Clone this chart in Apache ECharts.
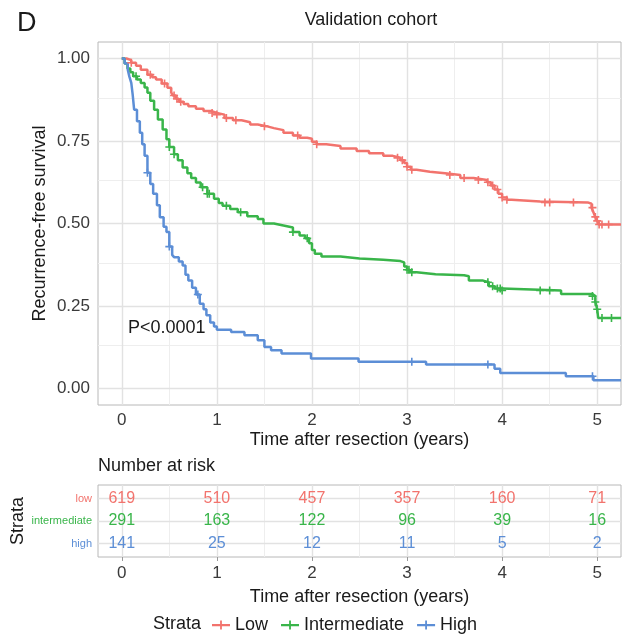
<!DOCTYPE html>
<html lang="en">
<head>
<meta charset="UTF-8">
<title>Validation cohort</title>
<script src="https://cdn.jsdelivr.net/npm/echarts@6/dist/echarts.min.js"></script>
<style>
  html, body { margin: 0; padding: 0; background: #fff; }
  #chart { width: 628px; height: 635px; }
</style>
</head>
<body>
<div id="chart"></div>
<script>
// survival curves: [years, survival], value holds until next point
var lowCurve = [
  [0, 1], [0.05, 0.995], [0.1, 0.987], [0.15, 0.978], [0.2, 0.966], [0.27, 0.951], [0.32, 0.943],
  [0.36, 0.936], [0.42, 0.924], [0.48, 0.911], [0.52, 0.897], [0.54, 0.888], [0.57, 0.878],
  [0.6, 0.869], [0.65, 0.862], [0.7, 0.855], [0.78, 0.848], [0.86, 0.841], [0.94, 0.835],
  [1.0, 0.83], [1.08, 0.82], [1.17, 0.813], [1.26, 0.807], [1.35, 0.8], [1.43, 0.795],
  [1.52, 0.789], [1.6, 0.783], [1.7, 0.775], [1.8, 0.767], [1.87, 0.76], [1.95, 0.757],
  [2.0, 0.748], [2.05, 0.74], [2.15, 0.735], [2.3, 0.727], [2.47, 0.72], [2.6, 0.713],
  [2.75, 0.705], [2.85, 0.699], [2.93, 0.692], [2.97, 0.683], [3.0, 0.672], [3.04, 0.663],
  [3.1, 0.657], [3.24, 0.652], [3.4, 0.647], [3.56, 0.638], [3.7, 0.632], [3.84, 0.625],
  [3.88, 0.615], [3.92, 0.603], [3.96, 0.59], [4.0, 0.579], [4.05, 0.572], [4.1, 0.567],
  [4.4, 0.564], [4.9, 0.56], [4.94, 0.548], [4.96, 0.534], [4.98, 0.52], [5.0, 0.508],
  [5.02, 0.497], [5.25, 0.497]
];
var intCurve = [
  [0, 1], [0.03, 0.985], [0.06, 0.97], [0.09, 0.958], [0.12, 0.946], [0.16, 0.936], [0.2, 0.926],
  [0.24, 0.912], [0.27, 0.896], [0.3, 0.872], [0.34, 0.845], [0.38, 0.815], [0.43, 0.785],
  [0.47, 0.755], [0.5, 0.732], [0.55, 0.71], [0.59, 0.692], [0.64, 0.67], [0.69, 0.652],
  [0.73, 0.638], [0.78, 0.624], [0.83, 0.61], [0.9, 0.59], [0.97, 0.575], [1.02, 0.562],
  [1.06, 0.554], [1.14, 0.544], [1.22, 0.534], [1.32, 0.522], [1.43, 0.514], [1.49, 0.5],
  [1.6, 0.494], [1.7, 0.488], [1.8, 0.474], [1.87, 0.464], [1.93, 0.455], [1.97, 0.44],
  [2.0, 0.42], [2.03, 0.408], [2.1, 0.4], [2.3, 0.394], [2.5, 0.39], [2.75, 0.386],
  [2.93, 0.382], [2.97, 0.37], [3.0, 0.36], [3.03, 0.352], [3.1, 0.346], [3.3, 0.343],
  [3.6, 0.34], [3.65, 0.327], [3.8, 0.322], [3.86, 0.31], [3.92, 0.303], [4.0, 0.297],
  [4.62, 0.286], [4.95, 0.28], [4.98, 0.262], [5.0, 0.24], [5.01, 0.214], [5.25, 0.214]
];
var highCurve = [
  [0, 1], [0.03, 0.985], [0.063, 0.966], [0.08, 0.945], [0.1, 0.926], [0.115, 0.89], [0.13, 0.845],
  [0.16, 0.81], [0.19, 0.775], [0.215, 0.74], [0.24, 0.705], [0.27, 0.654], [0.3, 0.62],
  [0.33, 0.59], [0.37, 0.555], [0.4, 0.519], [0.44, 0.49], [0.47, 0.474], [0.5, 0.43],
  [0.53, 0.405], [0.55, 0.398], [0.6, 0.385], [0.64, 0.373], [0.67, 0.345], [0.7, 0.327],
  [0.74, 0.305], [0.78, 0.285], [0.82, 0.257], [0.86, 0.24], [0.89, 0.222], [0.93, 0.2],
  [0.97, 0.188], [1.0, 0.178], [1.15, 0.171], [1.29, 0.161], [1.43, 0.146], [1.5, 0.126],
  [1.57, 0.116], [1.68, 0.106], [1.99, 0.091], [2.49, 0.081], [3.2, 0.073], [3.92, 0.06],
  [3.98, 0.047], [4.67, 0.037], [4.96, 0.025], [5.25, 0.025]
];

// censoring times (years)
var lowCensor = [0.1, 0.3, 0.45, 0.55, 0.58, 0.62, 0.95, 1.0, 1.1, 1.2, 1.5, 1.85, 2.05, 2.9, 2.95,
  3.0, 3.05, 3.45, 3.6, 3.75, 3.85, 3.9, 3.95, 4.0, 4.05, 4.45, 4.5, 4.75, 4.95, 4.98, 5.0, 5.02, 5.05, 5.12];
var intCensor = [0.15, 0.5, 0.55, 0.85, 0.9, 0.92, 1.1, 1.25, 1.8, 1.95, 3.0, 3.02, 3.05, 3.85, 3.9,
  3.95, 3.98, 4.0, 4.4, 4.5, 4.95, 4.98, 5.0, 5.05, 5.15];
var highCensor = [0.27, 0.5, 0.8, 3.05, 3.85, 4.95];

// number at risk
var riskTimes = [0, 1, 2, 3, 4, 5];
var riskLow = [619, 510, 457, 357, 160, 71];
var riskInt = [291, 163, 122, 96, 39, 16];
var riskHigh = [141, 25, 12, 11, 5, 2];

var strataNames = ['Low', 'Intermediate', 'High'];
var rowNames = ['low', 'intermediate', 'high'];
var colors = ['#F2736D', '#39B54A', '#5C8ED6'];

var xMajor = [0, 1, 2, 3, 4, 5];
var xMinor = [0.5, 1.5, 2.5, 3.5, 4.5];
var yMajor = [0, 0.25, 0.5, 0.75, 1];
var yMinor = [0.125, 0.375, 0.625, 0.875];
var rowTicks = [1, 2, 3];

var font = 'Liberation Sans, Arial, Helvetica, sans-serif';
var plusPath = 'path://M0,3.2h8v1.6h-8z M3.2,0h1.6v8h-1.6z';
var legendPlus = 'path://M0,4h20v2.4h-20z M9,0h2v10h-2z';

function survAt(curve, t) {
  var s = curve[0][1];
  for (var i = 0; i < curve.length; i++) {
    if (curve[i][0] <= t) s = curve[i][1];
  }
  return s;
}

var myChart = echarts.init(document.getElementById('chart'));

var curves = [lowCurve, intCurve, highCurve];
var censors = [lowCensor, intCensor, highCensor];
var risks = [riskLow, riskInt, riskHigh];

function gridLines(xs, ys, color, width) {
  var out = [];
  xs.forEach(function (v) { out.push({ xAxis: v, lineStyle: { color: color, width: width, type: 'solid' } }); });
  ys.forEach(function (v) { out.push({ yAxis: v, lineStyle: { color: color, width: width, type: 'solid' } }); });
  return out;
}

var series = [
  {
    type: 'line', xAxisIndex: 0, yAxisIndex: 0, data: [], silent: true, z: 1,
    markLine: {
      silent: true, symbol: ['none', 'none'], label: { show: false }, z: 1, animation: false,
      data: gridLines(xMinor, yMinor, '#eeeeee', 1).concat(gridLines(xMajor, yMajor, '#e2e2e2', 1.4))
    }
  },
  {
    type: 'line', xAxisIndex: 1, yAxisIndex: 1, data: [], silent: true, z: 1,
    markLine: {
      silent: true, symbol: ['none', 'none'], label: { show: false }, z: 1, animation: false,
      data: gridLines(xMinor, [], '#eeeeee', 1).concat(gridLines(xMajor, rowTicks, '#e2e2e2', 1.4))
    }
  }
];

strataNames.forEach(function (name, k) {
  series.push({
    name: name, type: 'line', step: 'end', xAxisIndex: 0, yAxisIndex: 0,
    data: curves[k], showSymbol: false, z: 3,
    lineStyle: { color: colors[k], width: 2.5 }, itemStyle: { color: colors[k] }
  });
});
strataNames.forEach(function (name, k) {
  series.push({
    name: name, type: 'scatter', xAxisIndex: 0, yAxisIndex: 0, z: 4,
    symbol: plusPath, symbolSize: 8,
    data: censors[k].map(function (t) { return [t, survAt(curves[k], t)]; }),
    itemStyle: { color: colors[k], opacity: 1 }
  });
});
// number-at-risk table, one row per stratum
rowNames.forEach(function (name, k) {
  series.push({
    name: 'risk-' + name, type: 'scatter', xAxisIndex: 1, yAxisIndex: 1, z: 6,
    symbol: 'circle', symbolSize: 1, itemStyle: { color: '#ffffff', opacity: 1 },
    data: riskTimes.map(function (t, i) { return [t, k + 1, risks[k][i]]; }),
    label: {
      show: true, position: 'inside', color: colors[k], opacity: 1, fontSize: 16, fontFamily: font,
      formatter: function (p) { return p.value[2]; }
    }
  });
});

var rich = {};
rowNames.forEach(function (n, k) { rich['s' + (k + 1)] = { color: colors[k], fontSize: 11, fontFamily: font }; });

var option = {
  animation: false,
  backgroundColor: '#fff',
  textStyle: { fontFamily: font },
  grid: [
    { left: 98, top: 42, width: 523, height: 363, show: true, borderColor: '#b8b8b8', borderWidth: 1, backgroundColor: '#fff', outerBoundsMode: 'none', containLabel: false },
    { left: 98, top: 485, width: 523, height: 72, show: true, borderColor: '#b8b8b8', borderWidth: 1, backgroundColor: '#fff', outerBoundsMode: 'none', containLabel: false }
  ],
  xAxis: [
    {
      type: 'value', gridIndex: 0, min: -0.25, max: 5.25,
      name: 'Time after resection (years)', nameLocation: 'middle', nameGap: 26, nameMoveOverlap: false,
      nameTextStyle: { fontSize: 18, color: '#1a1a1a', fontFamily: font },
      axisLine: { show: false },
      axisTick: { show: true, length: 4, customValues: xMajor, lineStyle: { color: '#9a9a9a' } },
      axisLabel: { customValues: xMajor, fontSize: 17, color: '#3a3a3a', margin: 7 },
      splitLine: { show: false }
    },
    {
      type: 'value', gridIndex: 1, min: -0.25, max: 5.25,
      name: 'Time after resection (years)', nameLocation: 'middle', nameGap: 31, nameMoveOverlap: false,
      nameTextStyle: { fontSize: 18, color: '#1a1a1a', fontFamily: font },
      axisLine: { show: false },
      axisTick: { show: true, length: 4, customValues: xMajor, lineStyle: { color: '#9a9a9a' } },
      axisLabel: { customValues: xMajor, fontSize: 17, color: '#3a3a3a', margin: 8 },
      splitLine: { show: false }
    }
  ],
  yAxis: [
    {
      type: 'value', gridIndex: 0, min: -0.05, max: 1.05,
      name: 'Recurrence-free survival', nameLocation: 'middle', nameGap: 49, nameRotate: 90, nameMoveOverlap: false,
      nameTextStyle: { fontSize: 18, color: '#1a1a1a', fontFamily: font },
      axisLine: { show: false },
      axisTick: { show: true, length: 4, customValues: yMajor, lineStyle: { color: '#9a9a9a' } },
      axisLabel: {
        customValues: yMajor, fontSize: 17, color: '#3a3a3a', margin: 8,
        formatter: function (v) { return Number(v).toFixed(2); }
      },
      splitLine: { show: false }
    },
    {
      type: 'value', gridIndex: 1, min: 0.4, max: 3.6, inverse: true,
      name: 'Strata', nameLocation: 'middle', nameGap: 71, nameRotate: 90, nameMoveOverlap: false,
      nameTextStyle: { fontSize: 18, color: '#1a1a1a', fontFamily: font },
      axisLine: { show: false },
      axisTick: { show: true, length: 4, customValues: rowTicks, lineStyle: { color: '#9a9a9a' } },
      axisLabel: {
        customValues: rowTicks, margin: 6, rich: rich,
        formatter: function (v) { return '{s' + v + '|' + rowNames[v - 1] + '}'; }
      },
      splitLine: { show: false }
    }
  ],
  legend: {
    data: strataNames.map(function (n) { return { name: n, icon: legendPlus }; }),
    left: 207, top: 611, itemWidth: 18, itemHeight: 10, itemGap: 13,
    textStyle: { fontSize: 18, color: '#1a1a1a', fontFamily: font },
    selectedMode: false
  },
  graphic: [
    { type: 'text', left: 17, top: 10, style: { text: 'D', fontSize: 27, fill: '#1a1a1a', fontFamily: font } },
    { type: 'text', x: 371, y: 20, style: { text: 'Validation cohort', fontSize: 18, fill: '#1a1a1a', fontFamily: font, align: 'center', verticalAlign: 'middle' } },
    { type: 'text', x: 128, y: 328, z: 10, style: { text: 'P<0.0001', fontSize: 18, fill: '#1a1a1a', fontFamily: font, verticalAlign: 'middle' } },
    { type: 'text', x: 98, y: 466, style: { text: 'Number at risk', fontSize: 18, fill: '#1a1a1a', fontFamily: font, verticalAlign: 'middle' } },
    { type: 'text', x: 153, y: 624, style: { text: 'Strata', fontSize: 18, fill: '#1a1a1a', fontFamily: font, verticalAlign: 'middle' } }
  ],
  series: series
};

myChart.setOption(option);
</script>
</body>
</html>
